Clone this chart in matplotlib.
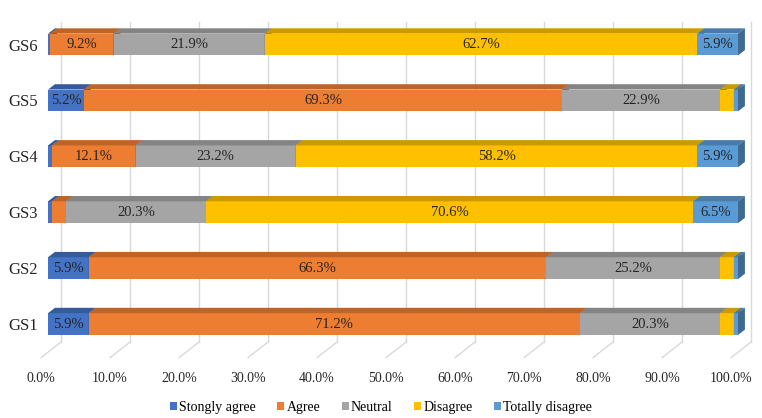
import matplotlib.pyplot as plt
import matplotlib.transforms as mtransforms
from matplotlib.patches import Polygon
from matplotlib.colors import to_rgb

categories = ["GS1", "GS2", "GS3", "GS4", "GS5", "GS6"]
series_names = ["Stongly agree", "Agree", "Neutral", "Disagree", "Totally disagree"]
strongly_agree = [5.9, 5.9, 0.6, 0.6, 5.2, 0.3]
agree = [71.2, 66.3, 2.0, 12.1, 69.3, 9.2]
neutral = [20.3, 25.2, 20.3, 23.2, 22.9, 21.9]
disagree = [2.0, 2.0, 70.6, 58.2, 2.0, 62.7]
totally_disagree = [0.6, 0.6, 6.5, 5.9, 0.6, 5.9]
x_ticks = [0, 10, 20, 30, 40, 50, 60, 70, 80, 90, 100]

colors = ["#4472C4", "#ED7D31", "#A5A5A5", "#FFC000", "#5B9BD5"]
series = [strongly_agree, agree, neutral, disagree, totally_disagree]

plt.rcParams['font.family'] = ['Liberation Serif', 'DejaVu Serif']

# 3D look (depth in data units)
bar_h = 0.39
dx = 1.0
dy = 0.095
floor_front = 1.0   # floor front edge sits left of bar front
floor_back = 1.9
floor_y_front = -0.60
floor_y_back = -0.32
wall_top = 5.40


def shade(c, f):
    r, g, b = to_rgb(c)
    return (r * f, g * f, b * f)


fig = plt.figure(figsize=(7.62, 4.18), dpi=100)
ax = fig.add_axes([0.0549, 0.1435, 0.9408, 0.8206])
ax.set_xlim(-0.9, 103)
ax.set_ylim(-0.608, 5.528)

# back wall gridlines + floor lines
for t in x_ticks:
    ax.plot([t + floor_back, t + floor_back], [floor_y_back, wall_top], color="#D9D9D9", lw=1, zorder=0, clip_on=False)
    ax.plot([t + floor_back, t - floor_front], [floor_y_back, floor_y_front], color="#D9D9D9", lw=1, zorder=0, clip_on=False)

y = list(range(len(categories)))
lefts = [0.0] * len(categories)
for name, vals, col in zip(series_names, series, colors):
    ax.barh(y, vals, left=lefts, height=bar_h, color=col, label=name, zorder=3)
    for i, (l, v) in enumerate(zip(lefts, vals)):
        top = i + bar_h / 2
        bot = i - bar_h / 2
        r = l + v
        ax.add_patch(Polygon([(l, top), (l + dx, top + dy), (r + dx, top + dy), (r, top)],
                             closed=True, facecolor=shade(col, 0.8), edgecolor="none", zorder=3))
        ax.add_patch(Polygon([(r, bot), (r, top), (r + dx, top + dy), (r + dx, bot + dy)],
                             closed=True, facecolor=shade(col, 0.68), edgecolor="none", zorder=3))
        if v >= 5:
            ax.text(l + v / 2, i, f"{v:.1f}%", ha="center", va="center",
                    fontsize=10.5, color="#262626", zorder=4)
    lefts = [l + v for l, v in zip(lefts, vals)]

ax.set_yticks(y)
ax.set_yticklabels(categories, fontsize=12, color="#262626")
ax.set_xticks(x_ticks)
ax.set_xticklabels([f"{t:.1f}%" for t in x_ticks], fontsize=10, color="#262626")
ax.tick_params(axis="both", length=0)
ax.tick_params(axis="x", pad=10)
ax.tick_params(axis="y", pad=3)
offset = mtransforms.ScaledTranslation(-7 / 100, 0, fig.dpi_scale_trans)
for lab in ax.get_xticklabels():
    lab.set_transform(lab.get_transform() + offset)
for s in ax.spines.values():
    s.set_visible(False)

fig.legend(loc="lower center", bbox_to_anchor=(0.5, -0.02), ncol=5, frameon=False,
           fontsize=10, handlelength=0.5, handleheight=0.5, handletextpad=0.15,
           columnspacing=1.55)

fig.savefig("out.png", dpi=100)
